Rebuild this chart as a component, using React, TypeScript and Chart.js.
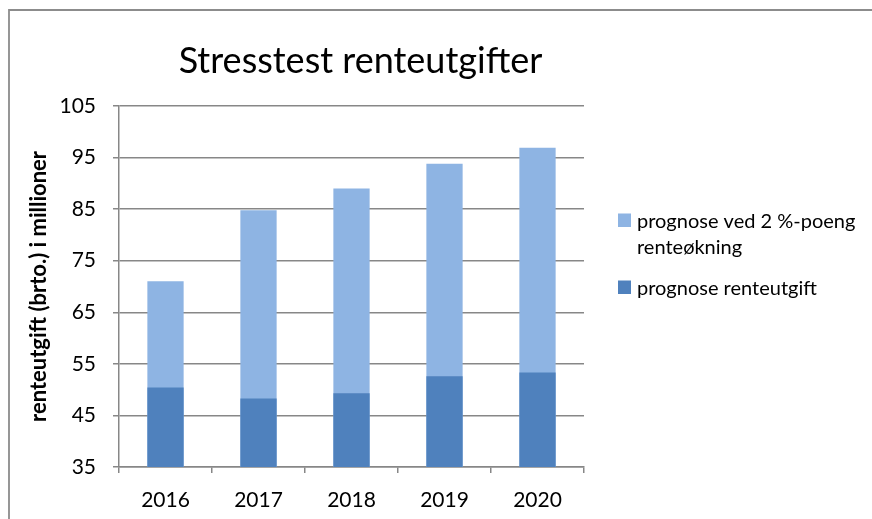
import React, { useEffect, useRef } from 'react';
import { Chart, registerables } from 'chart.js';

Chart.register(...registerables);

const chartTitle = 'Stresstest renteutgifter';
const yAxisTitle = 'renteutgift (brto.) i millioner';
const years = ['2016', '2017', '2018', '2019', '2020'];
const forecastWithIncrease = [71.0, 84.8, 89.0, 93.8, 96.9];
const forecastInterest = [50.4, 48.3, 49.3, 52.6, 53.3];
const yTicks = [35, 45, 55, 65, 75, 85, 95, 105];
const seriesLabels = ['prognose ved 2 %-poeng renteøkning', 'prognose renteutgift'];
const seriesColors = ['#8EB4E3', '#4F81BD'];

const FONT = 'Lato';
const AXIS_GRAY = '#878787';

function wrapText(ctx: CanvasRenderingContext2D, text: string, maxWidth: number): string[] {
  const words = text.split(' ');
  const lines: string[] = [];
  let cur = '';
  for (const w of words) {
    const test = cur ? cur + ' ' + w : w;
    if (cur && ctx.measureText(test).width > maxWidth) {
      lines.push(cur);
      cur = w;
    } else {
      cur = test;
    }
  }
  if (cur) lines.push(cur);
  return lines;
}

const decorPlugin = {
  id: 'decor',
  beforeDraw(chart: any) {
    const ctx: CanvasRenderingContext2D = chart.ctx;
    ctx.save();
    ctx.fillStyle = '#ffffff';
    ctx.fillRect(0, 0, chart.width, chart.height);
    ctx.strokeStyle = '#8c8c8c';
    ctx.lineWidth = 1.8;
    ctx.beginPath();
    ctx.moveTo(9, chart.height + 5);
    ctx.lineTo(9, 10);
    ctx.lineTo(chart.width + 5, 10);
    ctx.stroke();
    ctx.restore();
  },
  afterDraw(chart: any) {
    const ctx: CanvasRenderingContext2D = chart.ctx;
    const area = chart.chartArea;
    ctx.save();
    // title
    ctx.fillStyle = '#000';
    ctx.font = `36px ${FONT}`;
    ctx.textAlign = 'center';
    ctx.textBaseline = 'alphabetic';
    ctx.fillText(chartTitle, (area.left + area.right) / 2 + 9, 73);

    // legend
    ctx.font = `20px ${FONT}`;
    ctx.textAlign = 'left';
    const boxX = area.right + 34;
    const textX = boxX + 19;
    const lineStep = 25.7;
    let baseline = 228;
    chart.data.datasets.forEach((ds: any) => {
      const lines = wrapText(ctx, ds.label, 225);
      ctx.fillStyle = ds.backgroundColor;
      ctx.fillRect(boxX, baseline - 14.5, 13, 13.5);
      ctx.fillStyle = '#000';
      lines.forEach((ln, j) => ctx.fillText(ln, textX, baseline + j * lineStep));
      baseline += lines.length * lineStep + 15.6;
    });
    ctx.restore();
  },
};

export default function App() {
  const canvasRef = useRef<HTMLCanvasElement | null>(null);

  useEffect(() => {
    if (!canvasRef.current) return;
    const chart = new Chart(canvasRef.current, {
      type: 'bar',
      data: {
        labels: years,
        datasets: [
          {
            label: seriesLabels[0],
            data: forecastWithIncrease,
            backgroundColor: seriesColors[0],
            grouped: false,
            order: 2,
            barPercentage: 0.39,
            categoryPercentage: 1,
          } as any,
          {
            label: seriesLabels[1],
            data: forecastInterest,
            backgroundColor: seriesColors[1],
            grouped: false,
            order: 1,
            barPercentage: 0.39,
            categoryPercentage: 1,
          } as any,
        ],
      },
      options: {
        responsive: false,
        animation: false,
        devicePixelRatio: 1,
        layout: { padding: { top: 106, right: 288, left: 0, bottom: 0 } },
        plugins: {
          legend: { display: false },
          title: { display: false },
          tooltip: { enabled: false },
        },
        scales: {
          x: {
            type: 'category',
            offset: true,
            grid: {
              offset: true,
              drawOnChartArea: false,
              drawTicks: true,
              tickLength: 6,
              color: AXIS_GRAY,
              lineWidth: 1.5,
            },
            border: { display: true, color: AXIS_GRAY, width: 1.5 },
            ticks: {
              color: '#000',
              font: { family: FONT, size: 21 },
              padding: 15,
              maxRotation: 0,
              autoSkip: false,
            },
            afterFit: (s: any) => {
              s.height = 52;
            },
          },
          y: {
            type: 'linear',
            min: 35,
            max: 105,
            afterBuildTicks: (s: any) => {
              s.ticks = yTicks.map((v) => ({ value: v }));
            },
            grid: {
              color: AXIS_GRAY,
              lineWidth: 1.5,
              tickLength: 6,
              drawTicks: true,
            },
            border: { display: true, color: AXIS_GRAY, width: 1.5 },
            ticks: {
              color: '#000',
              font: { family: FONT, size: 21 },
              padding: 17,
            },
            title: {
              display: true,
              text: yAxisTitle,
              color: '#000',
              font: { family: FONT, size: 22, weight: 'bold' },
              padding: { top: 26, bottom: 0 },
            },
            afterFit: (s: any) => {
              s.width = 119;
            },
          },
        },
      } as any,
      plugins: [decorPlugin],
    });
    return () => chart.destroy();
  }, []);

  return (
    <div style={{ position: 'absolute', left: 0, top: 0, width: 872, height: 519, background: '#fff' }}>
      <canvas ref={canvasRef} width={872} height={519} style={{ display: 'block' }} />
    </div>
  );
}
